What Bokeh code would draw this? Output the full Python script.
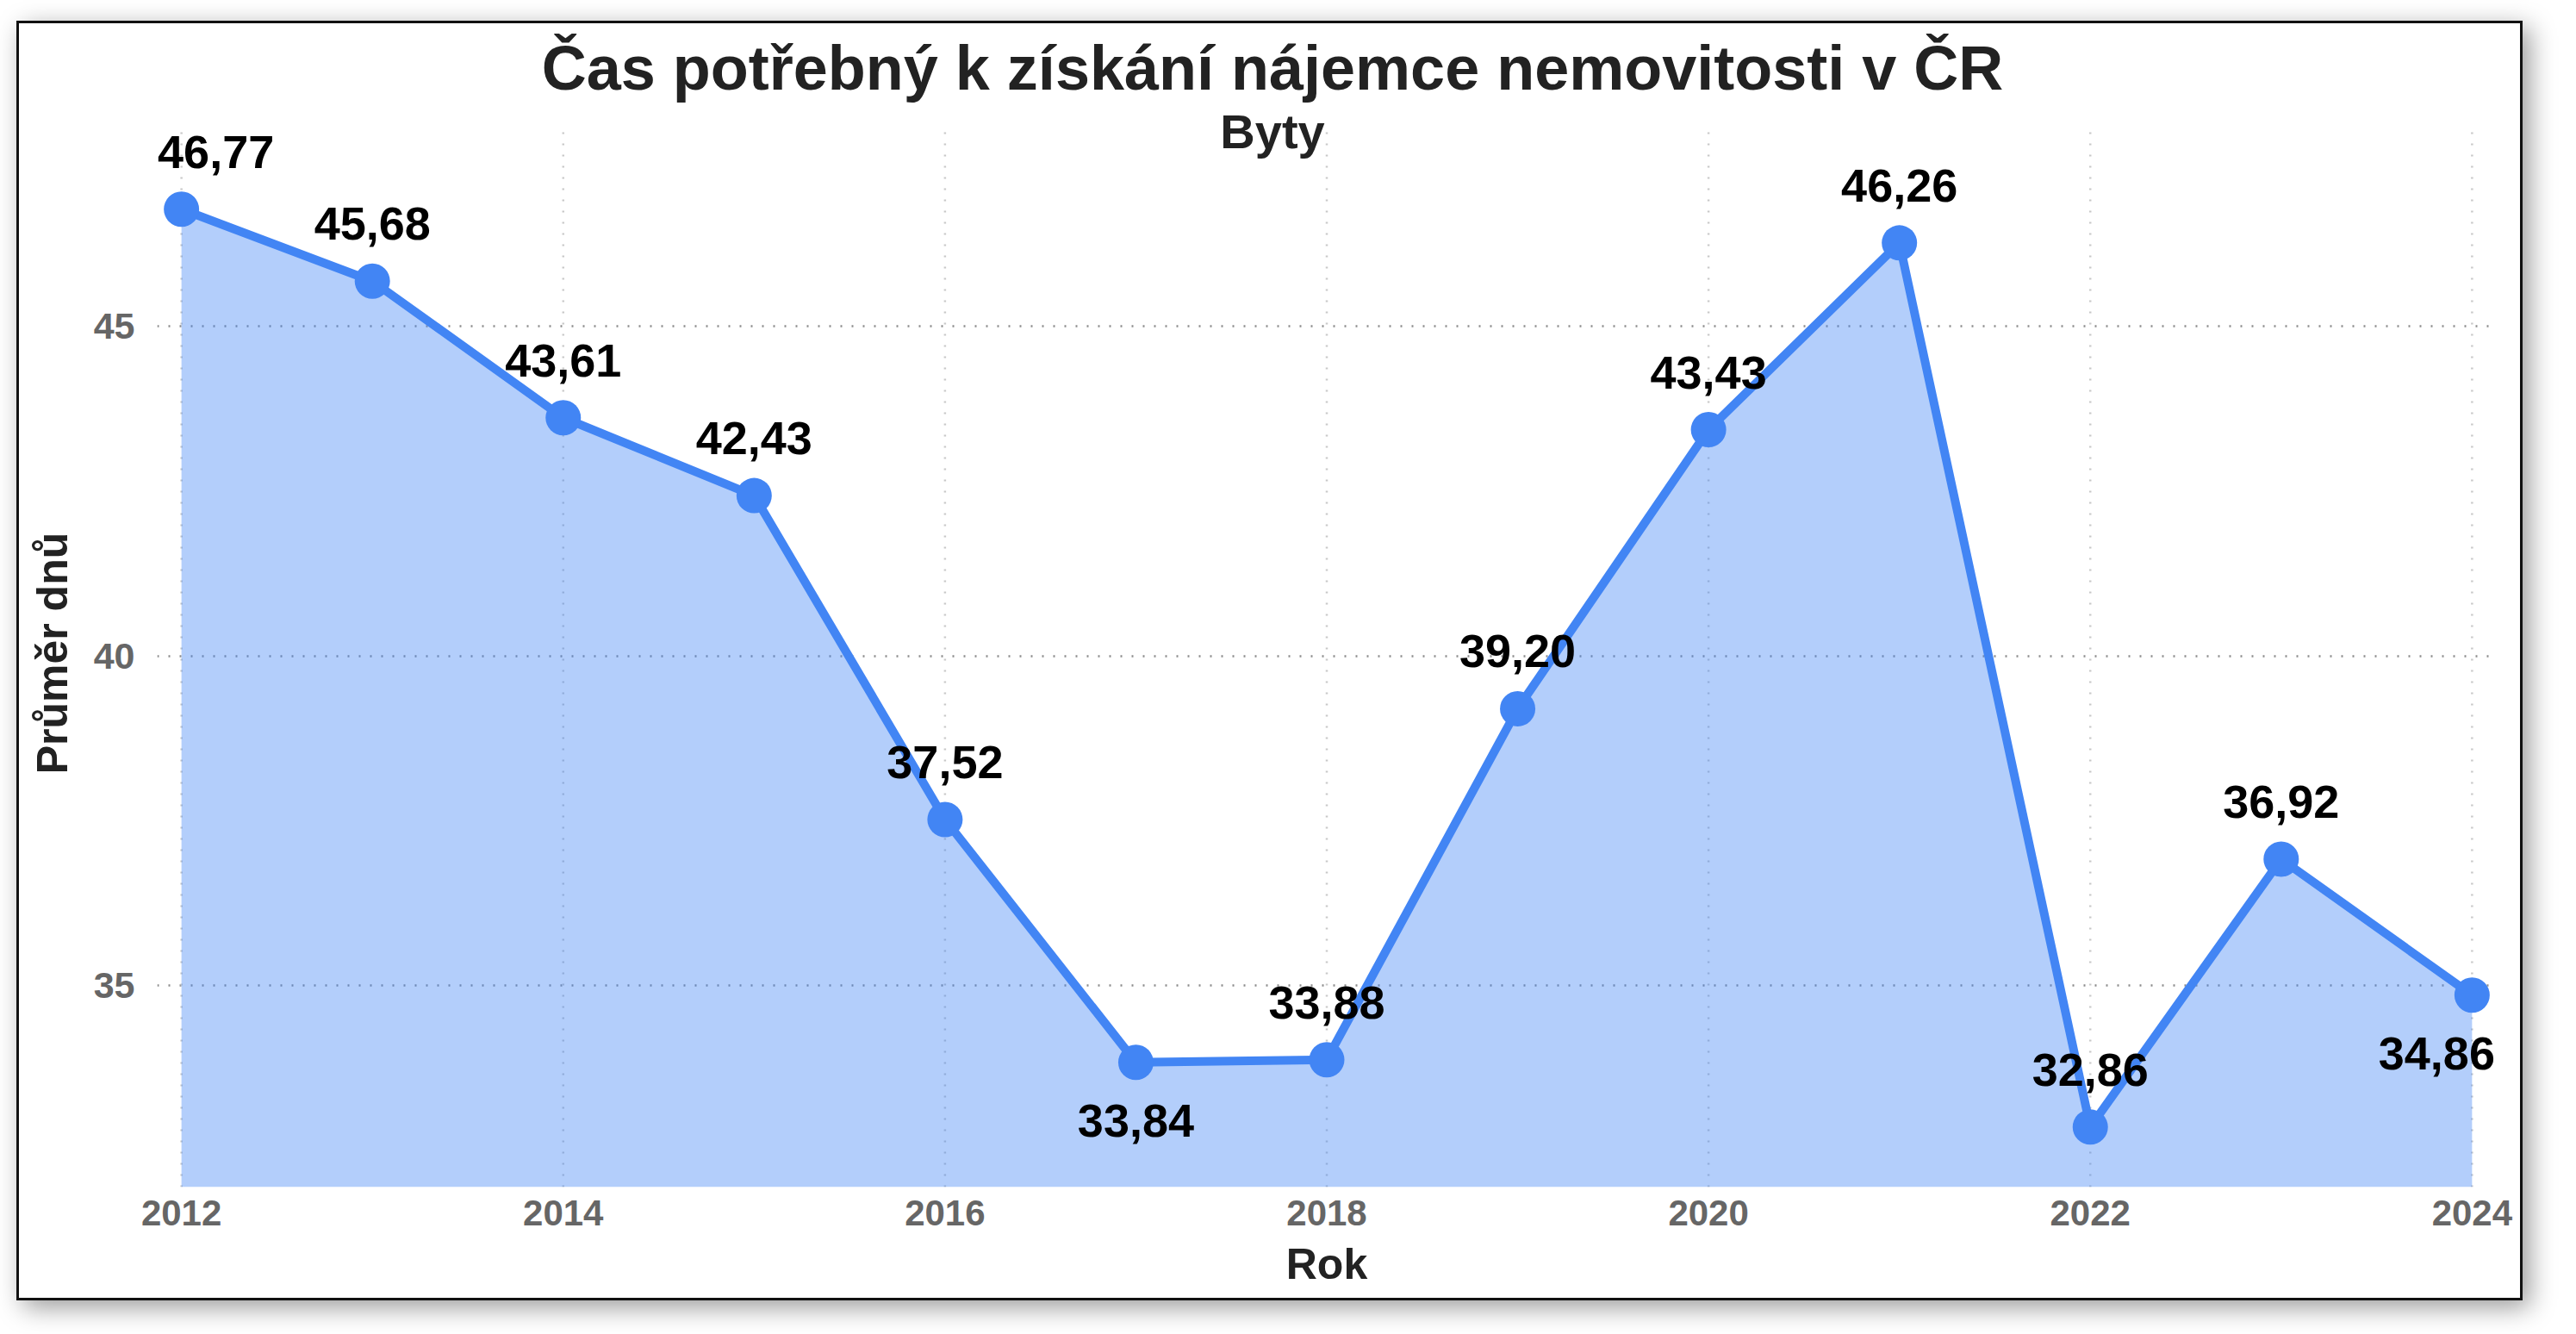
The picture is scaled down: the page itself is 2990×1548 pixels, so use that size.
from bokeh.plotting import figure
from bokeh.models import ColumnDataSource, LabelSet, Label, Range1d, FixedTicker
from bokeh.core.properties import value
from bokeh.embed import file_html
from bokeh.resources import INLINE

# ---- data ----
years = [2012, 2013, 2014, 2015, 2016, 2017, 2018, 2019, 2020, 2021, 2022, 2023, 2024]
values = [46.77, 45.68, 43.61, 42.43, 37.52, 33.84, 33.88, 39.20, 43.43, 46.26, 32.86, 36.92, 34.86]
x_ticks = [2012, 2014, 2016, 2018, 2020, 2022, 2024]
y_ticks = [35, 40, 45]
title_text = "Čas potřebný k získání nájemce nemovitosti v ČR"
subtitle_text = "Byty"
x_label = "Rok"
y_label = "Průměr dnů"

FONT = "Liberation Sans"
BLUE = "#4285F4"

# value window of the drawn area; the frame is taller so that the titles fit inside it
y_lo, y_hi = 31.95, 48.05
px_per_unit = 1230 / (y_hi - y_lo)
y_top = y_hi + 117 / px_per_unit

x_range = Range1d(2011.873, 2024.127)
y_range = Range1d(y_lo, y_top)

p = figure(width=2909, height=1485, output_backend="svg", toolbar_location=None,
           x_range=x_range, y_range=y_range,
           min_border_left=160, min_border_right=34, min_border_top=0, min_border_bottom=135)
p.styles = {"margin-left": "19px", "margin-top": "24px",
            "border": "3px solid #111111",
            "box-shadow": "8px 8px 28px rgba(0,0,0,0.40)"}
p.outline_line_color = None
p.background_fill_color = "white"
p.border_fill_color = "white"

# grids: horizontal via Grid, vertical drawn only over the value window
p.xgrid.visible = False
p.ygrid.ticker = FixedTicker(ticks=y_ticks)
p.ygrid.grid_line_color = "#8c8c8c"
p.ygrid.grid_line_dash = "2 11"
p.ygrid.grid_line_width = 2.5
p.segment(x0=x_ticks, y0=[y_lo] * len(x_ticks), x1=x_ticks, y1=[y_hi] * len(x_ticks),
          line_color="#c8c8c8", line_dash="2 11", line_width=2.5)

# axes
p.xaxis.ticker = FixedTicker(ticks=x_ticks)
p.yaxis.ticker = FixedTicker(ticks=y_ticks)
for ax in (p.xaxis[0], p.yaxis[0]):
    ax.axis_line_color = None
    ax.major_tick_line_color = None
    ax.minor_tick_line_color = None
    ax.major_tick_out = 0
    ax.major_tick_in = 0
    ax.major_label_text_font = FONT
    ax.major_label_text_font_style = "bold"
    ax.major_label_text_color = "#666666"
    ax.axis_label_text_font = FONT
    ax.axis_label_text_font_style = "bold"
    ax.axis_label_text_color = "#222222"
    ax.axis_label_text_font_size = "50px"
p.xaxis.major_label_text_font_size = "42px"
p.yaxis.major_label_text_font_size = "43px"
p.xaxis.axis_label = x_label
# trailing spaces keep the label centred on the value window rather than the taller frame
p.yaxis.axis_label = y_label + " " * 8
p.xaxis.major_label_standoff = 15
p.yaxis.major_label_standoff = 26
p.xaxis.axis_label_standoff = 14
p.yaxis.axis_label_standoff = 17

# area, line, markers
base = [y_lo] * len(years)
p.varea(x=years, y1=base, y2=values, fill_color=BLUE, fill_alpha=0.4)
p.line(years, values, line_color=BLUE, line_width=10, line_join="round")
p.scatter(years, values, size=41, fill_color=BLUE, line_color=None)

# data labels
below = {2017, 2024}
xoff = []
yoff = []
for i, yr in enumerate(years):
    if i == 0:
        xoff.append(40)
    elif i == len(years) - 1:
        xoff.append(-41)
    else:
        xoff.append(0)
    yoff.append(-86 if yr in below else 48)
src = ColumnDataSource(dict(x=years, y=values,
                            t=[f"{v:.2f}".replace(".", ",") for v in values],
                            xo=xoff, yo=yoff))
p.add_layout(LabelSet(x="x", y="y", text="t", source=src, x_offset="xo", y_offset="yo",
                      text_align="center", text_baseline="alphabetic",
                      text_font=value(FONT), text_font_style="bold",
                      text_font_size="54px", text_color="black"))

# title and subtitle
xc = (x_range.start + x_range.end) / 2
p.add_layout(Label(x=xc, y=y_top, x_offset=-63, y_offset=-51, text=title_text,
                   text_align="center", text_baseline="alphabetic", text_font=FONT,
                   text_font_style="bold", text_font_size="72px", text_color="#222222"))
p.add_layout(Label(x=xc, y=y_top, x_offset=-63, y_offset=-125, text=subtitle_text,
                   text_align="center", text_baseline="alphabetic", text_font=FONT,
                   text_font_style="bold", text_font_size="56px", text_color="#222222"))

open("out.html", "w").write(file_html(p, INLINE))
